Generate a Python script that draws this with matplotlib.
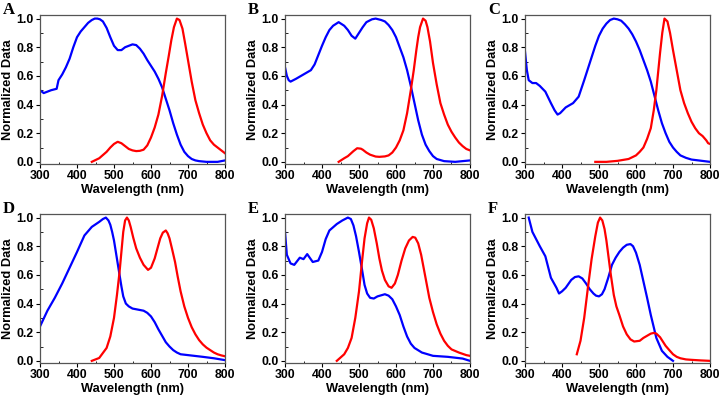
import numpy as np
import matplotlib
matplotlib.use("Agg")
import matplotlib.pyplot as plt
from matplotlib.ticker import MultipleLocator

plt.rcParams["font.family"] = ["Liberation Sans", "DejaVu Sans"]

# ---- datos (longitud de onda nm, valor normalizado) ----
# A
a_abs_x = [300, 310, 330, 345, 350, 360, 370, 380, 390, 400, 410, 420, 430, 440, 448, 455, 462, 470, 480, 490, 500, 510, 520, 530, 540, 550, 560, 570, 580, 590, 600, 610, 620, 630, 640, 650, 660, 670, 680, 690, 700, 710, 720, 730, 750, 780, 800]
a_abs_y = [0.50, 0.48, 0.50, 0.51, 0.57, 0.61, 0.66, 0.72, 0.80, 0.87, 0.91, 0.94, 0.97, 0.99, 1.00, 1.00, 0.995, 0.98, 0.935, 0.87, 0.81, 0.78, 0.78, 0.80, 0.81, 0.82, 0.815, 0.79, 0.755, 0.71, 0.67, 0.63, 0.58, 0.52, 0.44, 0.36, 0.27, 0.19, 0.12, 0.07, 0.04, 0.02, 0.01, 0.005, 0.0, 0.0, 0.01]
a_em_x = [440, 460, 480, 490, 500, 510, 520, 530, 540, 550, 560, 570, 580, 590, 600, 610, 620, 630, 640, 648, 655, 662, 670, 677, 685, 692, 700, 710, 720, 730, 740, 750, 760, 770, 780, 790, 800]
a_em_y = [0.0, 0.025, 0.07, 0.10, 0.125, 0.14, 0.13, 0.11, 0.09, 0.08, 0.075, 0.077, 0.085, 0.115, 0.17, 0.24, 0.33, 0.46, 0.62, 0.74, 0.85, 0.94, 1.0, 0.99, 0.93, 0.83, 0.71, 0.56, 0.43, 0.34, 0.26, 0.20, 0.15, 0.12, 0.10, 0.08, 0.06]

# B
b_abs_x = [300, 305, 310, 315, 330, 350, 370, 380, 390, 400, 410, 420, 430, 445, 460, 470, 480, 490, 500, 510, 520, 535, 545, 560, 570, 580, 590, 600, 610, 620, 630, 640, 650, 660, 670, 680, 690, 700, 710, 730, 760, 800]
b_abs_y = [0.66, 0.60, 0.57, 0.56, 0.58, 0.61, 0.64, 0.68, 0.745, 0.81, 0.87, 0.92, 0.95, 0.975, 0.95, 0.92, 0.88, 0.86, 0.90, 0.94, 0.975, 0.995, 1.0, 0.99, 0.98, 0.955, 0.92, 0.87, 0.80, 0.73, 0.64, 0.53, 0.41, 0.29, 0.19, 0.12, 0.075, 0.04, 0.02, 0.005, 0.0, 0.01]
b_em_x = [445, 460, 470, 485, 495, 505, 510, 520, 530, 545, 555, 570, 580, 590, 600, 610, 620, 630, 640, 648, 655, 660, 665, 673, 680, 685, 692, 700, 710, 720, 730, 740, 750, 760, 770, 780, 790, 800]
b_em_y = [0.0, 0.025, 0.04, 0.075, 0.095, 0.092, 0.085, 0.065, 0.05, 0.037, 0.035, 0.038, 0.045, 0.065, 0.10, 0.15, 0.22, 0.34, 0.50, 0.64, 0.78, 0.87, 0.94, 1.0, 0.985, 0.94, 0.84, 0.69, 0.54, 0.41, 0.33, 0.26, 0.21, 0.17, 0.135, 0.11, 0.09, 0.08]

# C
c_abs_x = [300, 305, 310, 320, 330, 340, 355, 370, 380, 388, 395, 410, 430, 445, 460, 470, 480, 490, 500, 510, 520, 530, 540, 550, 560, 570, 580, 590, 600, 610, 620, 630, 640, 650, 660, 670, 680, 690, 700, 710, 720, 735, 750, 775, 800]
c_abs_y = [0.77, 0.64, 0.57, 0.55, 0.55, 0.53, 0.49, 0.41, 0.36, 0.33, 0.34, 0.38, 0.41, 0.455, 0.57, 0.65, 0.73, 0.81, 0.88, 0.93, 0.965, 0.99, 1.0, 0.995, 0.985, 0.96, 0.93, 0.89, 0.84, 0.78, 0.71, 0.64, 0.56, 0.46, 0.36, 0.27, 0.20, 0.14, 0.10, 0.07, 0.045, 0.028, 0.016, 0.008, 0.0]
c_em_x = [490, 520, 550, 580, 600, 610, 620, 630, 640, 648, 655, 660, 665, 671, 677, 685, 692, 700, 710, 720, 730, 740, 750, 760, 770, 780, 790, 795, 800]
c_em_y = [0.0, 0.0, 0.007, 0.02, 0.045, 0.07, 0.10, 0.16, 0.235, 0.36, 0.50, 0.63, 0.76, 0.90, 1.0, 0.98, 0.90, 0.78, 0.64, 0.50, 0.41, 0.34, 0.28, 0.235, 0.20, 0.18, 0.15, 0.13, 0.125]

# D
d_abs_x = [300, 320, 340, 360, 380, 400, 420, 440, 460, 470, 478, 485, 490, 495, 500, 505, 510, 515, 520, 525, 532, 540, 550, 560, 580, 590, 600, 610, 620, 630, 640, 650, 660, 670, 680, 700, 740, 770, 800]
d_abs_y = [0.24, 0.35, 0.44, 0.54, 0.65, 0.76, 0.875, 0.935, 0.97, 0.99, 1.0, 0.98, 0.95, 0.90, 0.84, 0.76, 0.68, 0.60, 0.52, 0.45, 0.40, 0.38, 0.365, 0.36, 0.35, 0.335, 0.31, 0.27, 0.22, 0.175, 0.13, 0.10, 0.075, 0.058, 0.046, 0.04, 0.028, 0.018, 0.005]
d_em_x = [440, 460, 480, 490, 500, 508, 515, 520, 525, 530, 535, 540, 545, 552, 560, 570, 580, 592, 600, 610, 618, 625, 632, 640, 645, 650, 657, 665, 672, 680, 690, 700, 710, 720, 730, 740, 750, 760, 770, 780, 790, 800]
d_em_y = [0.0, 0.02, 0.09, 0.17, 0.30, 0.46, 0.62, 0.76, 0.90, 0.98, 1.0, 0.98, 0.935, 0.86, 0.785, 0.72, 0.67, 0.635, 0.65, 0.715, 0.79, 0.855, 0.895, 0.91, 0.89, 0.855, 0.78, 0.69, 0.59, 0.485, 0.38, 0.30, 0.235, 0.185, 0.145, 0.115, 0.092, 0.075, 0.058, 0.046, 0.038, 0.032]

# E
e_abs_x = [300, 305, 315, 325, 340, 350, 360, 375, 390, 400, 410, 420, 440, 455, 470, 478, 485, 492, 500, 508, 515, 522, 530, 540, 550, 570, 580, 590, 600, 610, 620, 630, 640, 650, 670, 700, 740, 780, 800]
e_abs_y = [0.90, 0.74, 0.68, 0.67, 0.72, 0.71, 0.745, 0.69, 0.70, 0.76, 0.85, 0.91, 0.955, 0.98, 1.0, 0.99, 0.945, 0.87, 0.76, 0.64, 0.53, 0.47, 0.44, 0.435, 0.45, 0.465, 0.455, 0.43, 0.38, 0.32, 0.24, 0.17, 0.12, 0.09, 0.058, 0.035, 0.028, 0.016, 0.0]
e_em_x = [440, 460, 470, 480, 490, 500, 508, 515, 522, 527, 533, 540, 548, 555, 562, 570, 580, 588, 597, 605, 615, 625, 635, 645, 652, 660, 668, 675, 690, 700, 710, 720, 730, 740, 750, 770, 790, 800]
e_em_y = [0.0, 0.046, 0.09, 0.16, 0.30, 0.485, 0.69, 0.855, 0.96, 1.0, 0.985, 0.925, 0.82, 0.715, 0.63, 0.565, 0.52, 0.51, 0.54, 0.60, 0.70, 0.785, 0.84, 0.865, 0.86, 0.82, 0.74, 0.645, 0.44, 0.34, 0.255, 0.19, 0.14, 0.105, 0.08, 0.058, 0.04, 0.035]

# F
f_abs_x = [310, 320, 340, 355, 370, 385, 392, 400, 410, 425, 435, 445, 455, 465, 475, 485, 492, 500, 508, 515, 525, 535, 545, 555, 565, 575, 585, 592, 600, 610, 620, 630, 640, 655, 670, 685, 700]
f_abs_y = [1.0, 0.90, 0.80, 0.73, 0.58, 0.51, 0.47, 0.485, 0.51, 0.565, 0.585, 0.59, 0.575, 0.54, 0.50, 0.47, 0.455, 0.45, 0.465, 0.50, 0.58, 0.67, 0.72, 0.76, 0.79, 0.81, 0.815, 0.80, 0.755, 0.67, 0.555, 0.44, 0.32, 0.16, 0.07, 0.028, 0.0]
f_em_x = [440, 450, 460, 470, 480, 490, 497, 503, 509, 515, 520, 525, 532, 540, 547, 555, 565, 575, 585, 595, 610, 620, 630, 640, 648, 655, 665, 680, 690, 700, 710, 720, 735, 750, 775, 800]
f_em_y = [0.046, 0.14, 0.30, 0.51, 0.71, 0.87, 0.965, 1.0, 0.98, 0.92, 0.84, 0.74, 0.60, 0.46, 0.38, 0.32, 0.24, 0.185, 0.15, 0.135, 0.14, 0.16, 0.175, 0.19, 0.195, 0.19, 0.165, 0.105, 0.075, 0.046, 0.028, 0.018, 0.01, 0.007, 0.003, 0.0]

paneles = [
    ("A", a_abs_x, a_abs_y, a_em_x, a_em_y),
    ("B", b_abs_x, b_abs_y, b_em_x, b_em_y),
    ("C", c_abs_x, c_abs_y, c_em_x, c_em_y),
    ("D", d_abs_x, d_abs_y, d_em_x, d_em_y),
    ("E", e_abs_x, e_abs_y, e_em_x, e_em_y),
    ("F", f_abs_x, f_abs_y, f_em_x, f_em_y),
]

W, H = 720, 398
fig = plt.figure(figsize=(W / 100, H / 100), dpi=100)

# posiciones en pixeles (izquierda, arriba) de cada eje
lefts = [40, 285, 525]
tops = [15, 214]
ax_w, ax_h = 185, 149

for i, (letra, xa, ya, xe, ye) in enumerate(paneles):
    fila, col = divmod(i, 3)
    l = lefts[col]
    t = tops[fila]
    ax = fig.add_axes([l / W, 1 - (t + ax_h) / H, ax_w / W, ax_h / H])
    ax.plot(xa, ya, color="#0000ff", lw=1.6)
    ax.plot(xe, ye, color="#ff0000", lw=1.6)
    ax.set_xlim(300, 800)
    ax.set_ylim(-0.015, 1.025)
    ax.xaxis.set_major_locator(MultipleLocator(100))
    ax.xaxis.set_minor_locator(MultipleLocator(50))
    ax.yaxis.set_major_locator(MultipleLocator(0.2))
    ax.yaxis.set_minor_locator(MultipleLocator(0.1))
    ax.set_yticks(np.arange(0, 1.01, 0.2))
    ax.set_yticklabels([f"{v:.1f}" for v in np.arange(0, 1.01, 0.2)])
    ax.tick_params(which="major", direction="out", length=3, width=0.8, labelsize=8.8, pad=1.5)
    ax.tick_params(which="minor", direction="in", length=1.8, width=0.6)
    for lab in ax.get_xticklabels() + ax.get_yticklabels():
        lab.set_fontweight("bold")
    for s in ax.spines.values():
        s.set_color("#555555")
        s.set_linewidth(0.9)
    ax.set_xlabel("Wavelength (nm)", fontsize=9.3, fontweight="bold", labelpad=1)
    ax.set_ylabel("Normalized Data", fontsize=9.3, fontweight="bold", labelpad=2)
    fig.text((l - 37) / W, 1 - (t - 1) / H, letra, fontsize=12, fontweight="bold",
             family=["Liberation Serif", "DejaVu Serif"], ha="left", va="baseline")

fig.savefig("out.png", dpi=100)
